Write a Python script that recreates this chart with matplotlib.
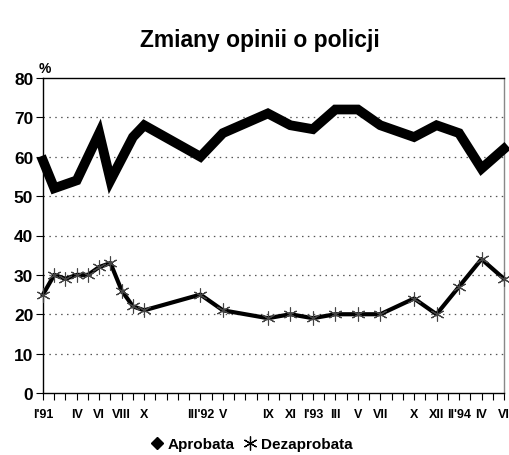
import numpy as np
import matplotlib
matplotlib.use("Agg")
import matplotlib.pyplot as plt
from matplotlib.lines import Line2D

plt.rcParams['font.family'] = ['Liberation Sans', 'DejaVu Sans']

# months counted from I'91 (0) to VI'94 (41)
apr_months = [0, 1, 3, 5, 6, 8, 9, 14, 16, 20, 22, 24, 26, 28, 30, 33, 35, 37, 39, 41]
aprobata = [59, 52, 54, 66, 54, 65, 68, 60, 66, 71, 68, 67, 72, 72, 68, 65, 68, 66, 57, 62]

dez_months = [0, 1, 2, 3, 4, 5, 6, 7, 8, 9, 14, 16, 20, 22, 24, 26, 28, 30, 33, 35, 37, 39, 41]
dezaprobata = [25, 30, 29, 30, 30, 32, 33, 26, 22, 21, 25, 21, 19, 20, 19, 20, 20, 20, 24, 20, 27, 34, 29]

tick_pos = [0, 3, 5, 7, 9, 14, 16, 20, 22, 24, 26, 28, 30, 33, 35, 37, 39, 41]
tick_labels = ["I'91", "IV", "VI", "VIII", "X", "III'92", "V", "IX", "XI", "I'93",
               "III", "V", "VII", "X", "XII", "II'94", "IV", "VI"]

fig = plt.figure(figsize=(5.09, 4.56), dpi=100)
ax = fig.add_axes([43 / 509, 1 - 394 / 456, 461 / 509, 315 / 456])

# dotted grid
for y in range(10, 80, 10):
    ax.axhline(y, color='#555555', linestyle=(0, (1.2, 3.5)), linewidth=0.9, zorder=1)

ax.plot(apr_months, aprobata, color='black', linewidth=7, solid_joinstyle='miter',
        clip_on=False, zorder=3)
ax.plot(dez_months, dezaprobata, color='black', linewidth=3, clip_on=False, zorder=3)
ax.plot(dez_months, dezaprobata, linestyle='none', marker=(6, 2, 0), markersize=10,
        markeredgecolor='#444444', markeredgewidth=0.8, clip_on=False, zorder=4)

ax.set_xlim(0, 41)
ax.set_ylim(0, 80)
ax.set_yticks(range(0, 81, 10))
ax.set_yticklabels([str(v) for v in range(0, 81, 10)], fontsize=12.5, fontweight='bold')
ax.set_xticks(range(0, 42), minor=True)
ax.set_xticks(tick_pos)
ax.set_xticklabels(tick_labels, fontsize=9, fontweight='bold')
ax.tick_params(axis='x', which='both', direction='out', length=5, width=0.8, pad=6)
ax.tick_params(axis='y', direction='out', length=5, width=0.8, pad=2)

for side in ['left', 'bottom', 'top']:
    ax.spines[side].set_color('black')
    ax.spines[side].set_linewidth(1)
ax.spines['right'].set_color('#888888')
ax.spines['right'].set_linewidth(1)

fig.text(0.511, 0.912, "Zmiany opinii o policji", ha='center', va='center',
         fontsize=16.5, fontweight='bold')
fig.text(39 / 509, 1 - 69 / 456, "%", ha='left', va='center', fontsize=10, fontweight='bold')

handles = [
    Line2D([], [], linestyle='none', marker='D', markersize=6, color='black'),
    Line2D([], [], linestyle='none', marker=(6, 2, 0), markersize=10,
           markeredgecolor='black', markeredgewidth=0.9),
]
fig.legend(handles, ['Aprobata', 'Dezaprobata'], loc='center',
           bbox_to_anchor=(0.495, 1 - 445 / 456), ncol=2, frameon=False,
           prop={'size': 11, 'weight': 'bold'}, handlelength=0.8, handletextpad=0.3,
           columnspacing=0.6)

fig.savefig('out.png', dpi=100)
